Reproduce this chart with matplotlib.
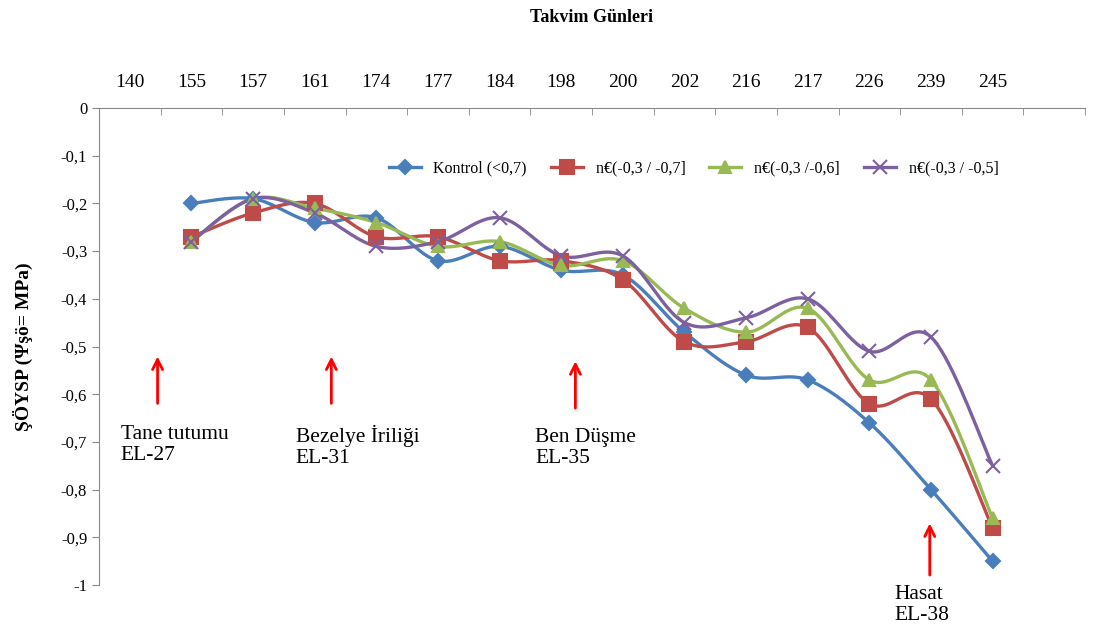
import numpy as np
import matplotlib
matplotlib.use('Agg')
import matplotlib.pyplot as plt

plt.rcParams['font.family'] = ['Liberation Serif', 'DejaVu Serif']

days = ['140', '155', '157', '161', '174', '177', '184', '198', '200', '202', '216', '217', '226', '239', '245']
# first day (140) has no measurements
kontrol = [-0.20, -0.19, -0.24, -0.23, -0.32, -0.29, -0.34, -0.35, -0.47, -0.56, -0.57, -0.66, -0.80, -0.95]
n_07 = [-0.27, -0.22, -0.20, -0.27, -0.27, -0.32, -0.32, -0.36, -0.49, -0.49, -0.46, -0.62, -0.61, -0.88]
n_06 = [-0.28, -0.19, -0.21, -0.24, -0.29, -0.28, -0.33, -0.32, -0.42, -0.47, -0.42, -0.57, -0.57, -0.86]
n_05 = [-0.28, -0.19, -0.22, -0.29, -0.28, -0.23, -0.31, -0.31, -0.45, -0.44, -0.40, -0.51, -0.48, -0.75]

labels = ['Kontrol (<0,7)', 'n€(-0,3 / -0,7]', 'n€(-0,3 /-0,6]', 'n€(-0,3 / -0,5]']
colors = ['#4A7EBB', '#BE4B48', '#98B954', '#7D60A0']
markers = ['D', 's', '^', 'x']
msizes = [7, 10, 9, 10]

stages = ['Tane tutumu\nEL-27', 'Bezelye İriliği\nEL-31', 'Ben Düşme\nEL-35', 'Hasat\nEL-38']


def smooth(x, y, n=20):
    # excel style smoothed line (bezier through points)
    x = np.asarray(x, float)
    y = np.asarray(y, float)
    px = np.concatenate([[x[0]], x, [x[-1]]])
    py = np.concatenate([[y[0]], y, [y[-1]]])
    xs, ys = [], []
    t = np.linspace(0, 1, n)
    for i in range(1, len(px) - 2):
        p0 = np.array([px[i], py[i]])
        p3 = np.array([px[i + 1], py[i + 1]])
        p1 = p0 + (np.array([px[i + 1], py[i + 1]]) - np.array([px[i - 1], py[i - 1]])) / 6
        p2 = p3 - (np.array([px[i + 2], py[i + 2]]) - np.array([px[i], py[i]])) / 6
        b = ((1 - t) ** 3)[:, None] * p0 + (3 * (1 - t) ** 2 * t)[:, None] * p1 \
            + (3 * (1 - t) * t ** 2)[:, None] * p2 + (t ** 3)[:, None] * p3
        xs.extend(b[:, 0])
        ys.extend(b[:, 1])
    return xs, ys


fig = plt.figure(figsize=(10.99, 6.3), dpi=100)
ax = fig.add_axes([0.0901, 0.0714, 0.8972, 0.7571])

x = np.arange(1, len(days))
for vals, lab, c, m, ms in zip([kontrol, n_07, n_06, n_05], labels, colors, markers, msizes):
    sx, sy = smooth(x, vals)
    ax.plot(sx, sy, color=c, lw=2.4, zorder=2)
    ax.plot(x, vals, ls='none', marker=m, color=c, ms=ms, mew=1.5, zorder=3)
    ax.plot([], [], color=c, lw=2.4, marker=m, ms=ms, mew=1.5, label=lab)

ax.set_xlim(-0.5, 15.5)
ax.set_ylim(-1, 0)

ax.xaxis.tick_top()
ax.set_xticks(np.arange(len(days)))
ax.set_xticklabels(days, fontsize=14)
ax.set_xticks(np.arange(-0.5, 16, 1), minor=True)
ax.tick_params(axis='x', which='major', length=0, pad=12)
ax.tick_params(axis='x', which='minor', direction='in', length=5, color='#888888')
ax.xaxis.set_label_position('top')
ax.set_xlabel('Takvim Günleri', fontsize=13, fontweight='bold', labelpad=38)

yt = np.round(np.arange(0, -1.01, -0.1), 1)
ax.set_yticks(yt)
ax.set_yticklabels([('%g' % v).replace('.', ',') for v in yt], fontsize=12)
ax.tick_params(axis='y', length=5, color='#888888')
ax.set_ylabel('ŞÖYSP (Ψşö= MPa)', fontsize=14, fontweight='bold', labelpad=20)

ax.spines['right'].set_visible(False)
ax.spines['bottom'].set_visible(False)
ax.spines['left'].set_color('#888888')
ax.spines['top'].set_color('#888888')

ax.legend(loc='center', bbox_to_anchor=(0.603, 0.874), ncol=4, frameon=False,
          fontsize=11.5, handlelength=2.0, handletextpad=0.8, columnspacing=1.5)

# phenological stage arrows
arrow_x = [0.45, 3.27, 7.23, 12.98]
arrow_y = [(-0.625, -0.515), (-0.625, -0.515), (-0.635, -0.525), (-0.985, -0.865)]
text_xy = [(-0.15, -0.665), (2.69, -0.665), (6.58, -0.67), (12.40, -1.0)]
for ax_x, (y0, y1), (tx, ty), s in zip(arrow_x, arrow_y, text_xy, stages):
    ax.annotate('', xy=(ax_x, y1), xytext=(ax_x, y0),
                arrowprops=dict(arrowstyle='->', color='red', lw=2, mutation_scale=18),
                annotation_clip=False)
    ax.text(tx, ty, s, fontsize=15.5, va='top', ha='left', linespacing=1.15, clip_on=False)

fig.savefig('out.png', dpi=100)
